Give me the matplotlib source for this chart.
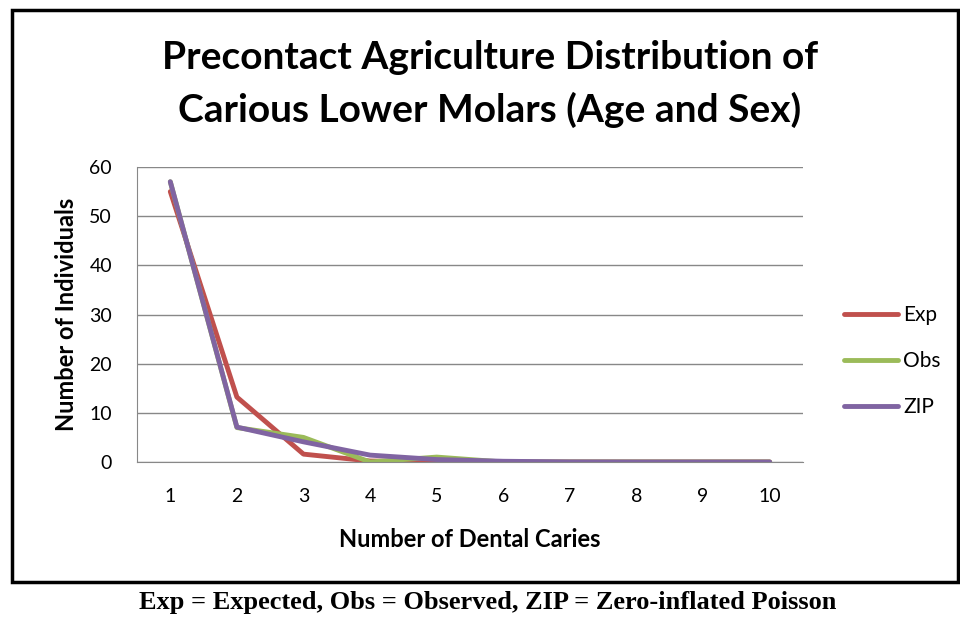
import matplotlib.pyplot as plt
from matplotlib.patches import Rectangle

# data
caries = [1, 2, 3, 4, 5, 6, 7, 8, 9, 10]
exp_vals = [55, 13.2, 1.6, 0.2, 0.05, 0, 0, 0, 0, 0]
obs_vals = [57, 7, 5, 0, 1, 0, 0, 0, 0, 0]
zip_vals = [57, 7.1, 4.1, 1.4, 0.5, 0.15, 0.02, 0, 0, 0]
series_names = ["Exp", "Obs", "ZIP"]
series_colors = ["#C0504D", "#9BBB59", "#8064A2"]

TITLE = "Precontact Agriculture Distribution of\nCarious Lower Molars (Age and Sex)"
CAPTION = "Exp = Expected, Obs = Observed, ZIP = Zero-inflated Poisson"

plt.rcParams['font.family'] = ['Lato', 'DejaVu Sans']

fig = plt.figure(figsize=(9.6, 6.17), dpi=100)
ax = fig.add_axes([137/960, 1 - 462/617, (803-137)/960, (462-167)/617])

for vals, name, col in zip([exp_vals, obs_vals, zip_vals], series_names, series_colors):
    ax.plot(caries, vals, color=col, lw=3.5, label=name, solid_capstyle='round')

ax.set_xlim(0.5, 10.5)
ax.set_ylim(0, 60)
ax.set_xticks(caries)
ax.set_yticks(range(0, 61, 10))
ax.tick_params(labelsize=14, length=0)
ax.tick_params(axis='y', pad=18)
ax.tick_params(axis='x', pad=19)
ax.grid(axis='y', color='#888888', lw=1)
ax.set_axisbelow(True)
for s in ['top', 'right']:
    ax.spines[s].set_visible(False)
for s in ['left', 'bottom']:
    ax.spines[s].set_color('#888888')
ax.set_xlabel("Number of Dental Caries", fontsize=17, fontweight='bold', labelpad=16)
ax.set_ylabel("Number of Individuals", fontsize=17, fontweight='bold', labelpad=8)

fig.text(490/960, 1 - 84/617, TITLE, ha='center', va='center',
         fontsize=28, fontweight='bold', linespacing=1.55)

ax.legend(loc='center left', bbox_to_anchor=(844/960, 1 - 361/617),
          bbox_transform=fig.transFigure, frameon=False, fontsize=15,
          borderaxespad=0, borderpad=0, handlelength=2.6,
          labelspacing=1.25, handletextpad=0.25)

fig.patches.append(Rectangle((12/960, 1 - 582/617), (958-12)/960, (582-10)/617,
                             transform=fig.transFigure, fill=False,
                             edgecolor='black', lw=2.5))

fig.text(488/960, 1 - 603/617, CAPTION, ha='center', va='center',
         fontsize=19, fontweight='bold', family=['Liberation Serif', 'DejaVu Serif'])

fig.savefig("out.png", dpi=100)
